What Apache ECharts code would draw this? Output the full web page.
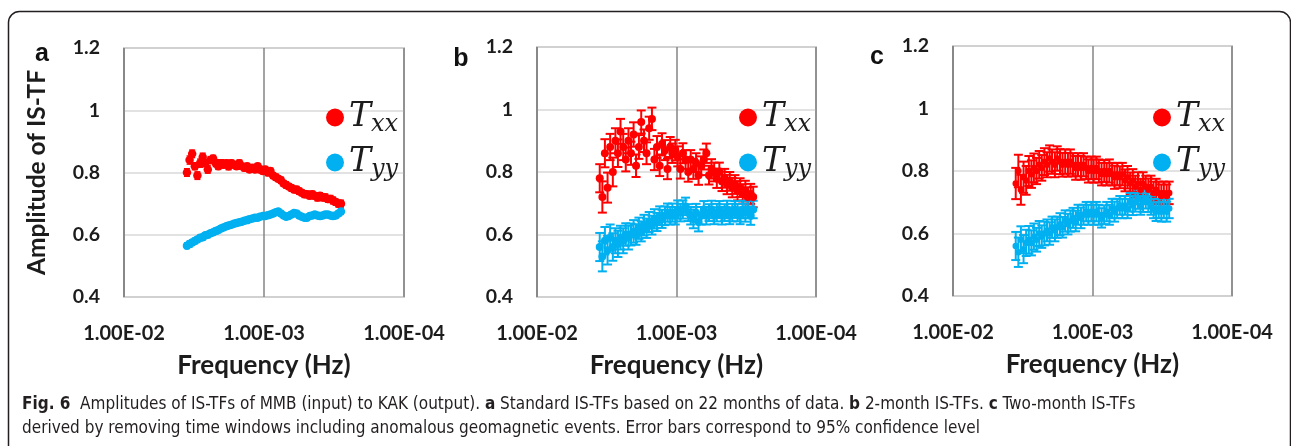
<!DOCTYPE html>
<html>
<head>
<meta charset="utf-8">
<script src="https://cdn.jsdelivr.net/npm/echarts@6/dist/echarts.min.js"></script>
<style>
html,body{margin:0;padding:0;background:#fff}
#chart{width:1291px;height:446px}
</style>
</head>
<body>
<div id="chart"></div>
<script>
// Frequencies (Hz) shared by all three panels
const freq = [3.55e-3, 3.40e-3, 3.26e-3, 3.12e-3, 2.99e-3, 2.86e-3, 2.74e-3, 2.63e-3, 2.52e-3, 2.41e-3,
  2.31e-3, 2.21e-3, 2.12e-3, 2.03e-3, 1.95e-3, 1.86e-3, 1.79e-3, 1.71e-3, 1.64e-3, 1.57e-3,
  1.50e-3, 1.44e-3, 1.38e-3, 1.32e-3, 1.27e-3, 1.21e-3, 1.16e-3, 1.11e-3, 1.07e-3, 1.02e-3,
  9.80e-4, 9.38e-4, 9.00e-4, 8.61e-4, 8.24e-4, 7.91e-4, 7.57e-4, 7.24e-4, 6.95e-4, 6.65e-4,
  6.37e-4, 6.11e-4, 5.85e-4, 5.61e-4, 5.37e-4, 5.14e-4, 4.93e-4, 4.72e-4, 4.52e-4, 4.34e-4,
  4.15e-4, 3.98e-4, 3.81e-4, 3.65e-4, 3.50e-4, 3.35e-4, 3.21e-4, 3.08e-4, 2.94e-4, 2.82e-4];

// (a) standard IS-TFs, 22 months
const aTxx = [0.80, 0.84, 0.86, 0.82, 0.79, 0.83, 0.85, 0.83, 0.81, 0.84,
  0.845, 0.83, 0.82, 0.83, 0.825, 0.83, 0.82, 0.83, 0.825, 0.82,
  0.83, 0.82, 0.815, 0.82, 0.81, 0.815, 0.81, 0.82, 0.81, 0.805,
  0.81, 0.80, 0.805, 0.79, 0.785, 0.78, 0.775, 0.765, 0.76, 0.755,
  0.75, 0.745, 0.745, 0.74, 0.735, 0.73, 0.73, 0.725, 0.73, 0.725,
  0.72, 0.725, 0.72, 0.72, 0.715, 0.715, 0.71, 0.705, 0.70, 0.70];
const aTyy = [0.565, 0.57, 0.575, 0.58, 0.585, 0.59, 0.592, 0.598, 0.60, 0.605,
  0.608, 0.612, 0.615, 0.62, 0.623, 0.627, 0.63, 0.632, 0.635, 0.638,
  0.64, 0.642, 0.645, 0.647, 0.65, 0.652, 0.655, 0.655, 0.658, 0.66,
  0.66, 0.663, 0.665, 0.668, 0.672, 0.675, 0.668, 0.662, 0.658, 0.66,
  0.665, 0.67, 0.668, 0.662, 0.658, 0.655, 0.655, 0.66, 0.662, 0.665,
  0.662, 0.66, 0.662, 0.665, 0.665, 0.662, 0.66, 0.662, 0.668, 0.675];
const aErrX = [0.012, 0.013, 0.012, 0.011, 0.012, 0.013, 0.012, 0.011, 0.012, 0.011,
  0.010, 0.011, 0.010, 0.011, 0.010, 0.010, 0.011, 0.010, 0.010, 0.009,
  0.010, 0.009, 0.010, 0.009, 0.009, 0.010, 0.009, 0.009, 0.010, 0.009,
  0.009, 0.010, 0.009, 0.009, 0.010, 0.009, 0.010, 0.009, 0.010, 0.009,
  0.010, 0.009, 0.010, 0.010, 0.009, 0.010, 0.010, 0.009, 0.010, 0.010,
  0.011, 0.010, 0.010, 0.011, 0.010, 0.011, 0.011, 0.010, 0.011, 0.011];
const aErrY = [0.009, 0.010, 0.009, 0.009, 0.008, 0.009, 0.009, 0.008, 0.009, 0.008,
  0.008, 0.009, 0.008, 0.008, 0.008, 0.007, 0.008, 0.008, 0.007, 0.008,
  0.007, 0.008, 0.007, 0.007, 0.008, 0.007, 0.007, 0.008, 0.007, 0.007,
  0.007, 0.008, 0.007, 0.007, 0.008, 0.007, 0.008, 0.007, 0.008, 0.007,
  0.008, 0.007, 0.008, 0.008, 0.007, 0.008, 0.008, 0.007, 0.008, 0.008,
  0.008, 0.009, 0.008, 0.008, 0.009, 0.008, 0.009, 0.009, 0.008, 0.009];

// (b) 2-month IS-TFs
const bTxx = [0.78, 0.72, 0.86, 0.75, 0.88, 0.80, 0.90, 0.86, 0.93, 0.88,
  0.84, 0.90, 0.86, 0.92, 0.82, 0.88, 0.96, 0.90, 0.86, 0.94,
  0.97, 0.84, 0.88, 0.82, 0.89, 0.87, 0.81, 0.88, 0.86, 0.87,
  0.85, 0.81, 0.86, 0.84, 0.80, 0.84, 0.81, 0.83, 0.79, 0.82,
  0.84, 0.86, 0.79, 0.81, 0.80, 0.78, 0.80, 0.77, 0.78, 0.76,
  0.77, 0.75, 0.76, 0.74, 0.75, 0.73, 0.74, 0.72, 0.73, 0.72];
const bTyy = [0.56, 0.53, 0.58, 0.55, 0.59, 0.56, 0.58, 0.57, 0.59, 0.58,
  0.60, 0.59, 0.60, 0.61, 0.60, 0.62, 0.61, 0.63, 0.62, 0.64,
  0.63, 0.65, 0.64, 0.66, 0.65, 0.66, 0.67, 0.66, 0.67, 0.66,
  0.68, 0.67, 0.68, 0.69, 0.67, 0.66, 0.65, 0.67, 0.64, 0.66,
  0.68, 0.66, 0.67, 0.68, 0.66, 0.67, 0.68, 0.66, 0.67, 0.68,
  0.66, 0.67, 0.68, 0.67, 0.66, 0.68, 0.67, 0.68, 0.66, 0.68];
const bErrX = [0.045, 0.050, 0.045, 0.048, 0.042, 0.046, 0.040, 0.044, 0.040, 0.042,
  0.038, 0.040, 0.037, 0.039, 0.036, 0.038, 0.037, 0.036, 0.035, 0.037,
  0.036, 0.034, 0.035, 0.033, 0.034, 0.032, 0.033, 0.032, 0.031, 0.033,
  0.032, 0.031, 0.032, 0.030, 0.031, 0.030, 0.032, 0.030, 0.031, 0.030,
  0.032, 0.031, 0.030, 0.031, 0.030, 0.031, 0.030, 0.031, 0.030, 0.031,
  0.030, 0.031, 0.030, 0.031, 0.030, 0.031, 0.032, 0.031, 0.032, 0.033];
const bErrY = [0.045, 0.048, 0.044, 0.046, 0.042, 0.044, 0.040, 0.042, 0.038, 0.040,
  0.036, 0.038, 0.035, 0.036, 0.033, 0.034, 0.032, 0.033, 0.031, 0.032,
  0.030, 0.031, 0.029, 0.030, 0.029, 0.030, 0.029, 0.028, 0.029, 0.028,
  0.029, 0.028, 0.029, 0.028, 0.027, 0.028, 0.030, 0.028, 0.030, 0.028,
  0.027, 0.028, 0.027, 0.028, 0.027, 0.028, 0.027, 0.028, 0.027, 0.028,
  0.027, 0.028, 0.027, 0.028, 0.027, 0.028, 0.029, 0.028, 0.029, 0.028];

// (c) two-month IS-TFs, anomalous windows removed
const cTxx = [0.76, 0.80, 0.74, 0.78, 0.77, 0.80, 0.79, 0.81, 0.80, 0.82,
  0.81, 0.83, 0.82, 0.84, 0.83, 0.82, 0.84, 0.83, 0.82, 0.83,
  0.82, 0.83, 0.82, 0.81, 0.82, 0.81, 0.82, 0.81, 0.80, 0.81,
  0.80, 0.81, 0.80, 0.79, 0.80, 0.79, 0.80, 0.79, 0.78, 0.79,
  0.78, 0.79, 0.77, 0.78, 0.76, 0.77, 0.75, 0.76, 0.74, 0.76,
  0.75, 0.74, 0.75, 0.73, 0.74, 0.73, 0.72, 0.73, 0.72, 0.73];
const cTyy = [0.56, 0.54, 0.58, 0.55, 0.57, 0.58, 0.57, 0.59, 0.58, 0.60,
  0.59, 0.60, 0.61, 0.60, 0.62, 0.61, 0.62, 0.63, 0.62, 0.64,
  0.63, 0.64, 0.65, 0.64, 0.66, 0.65, 0.66, 0.67, 0.66, 0.67,
  0.66, 0.67, 0.66, 0.65, 0.66, 0.67, 0.66, 0.68, 0.67, 0.68,
  0.69, 0.68, 0.69, 0.68, 0.70, 0.69, 0.70, 0.71, 0.69, 0.70,
  0.71, 0.70, 0.69, 0.68, 0.67, 0.68, 0.67, 0.68, 0.67, 0.68];
const cErrX = [0.050, 0.052, 0.048, 0.050, 0.046, 0.048, 0.044, 0.046, 0.042, 0.044,
  0.041, 0.043, 0.040, 0.042, 0.039, 0.040, 0.039, 0.040, 0.038, 0.039,
  0.038, 0.039, 0.037, 0.038, 0.037, 0.038, 0.037, 0.036, 0.037, 0.036,
  0.037, 0.036, 0.037, 0.036, 0.035, 0.036, 0.037, 0.036, 0.037, 0.036,
  0.035, 0.036, 0.035, 0.036, 0.035, 0.036, 0.035, 0.036, 0.035, 0.036,
  0.035, 0.036, 0.035, 0.036, 0.035, 0.036, 0.037, 0.036, 0.037, 0.036];
const cErrY = [0.045, 0.047, 0.043, 0.045, 0.042, 0.044, 0.040, 0.042, 0.038, 0.040,
  0.036, 0.038, 0.035, 0.036, 0.034, 0.035, 0.034, 0.035, 0.033, 0.034,
  0.033, 0.034, 0.032, 0.033, 0.032, 0.033, 0.032, 0.031, 0.032, 0.031,
  0.032, 0.031, 0.032, 0.031, 0.030, 0.031, 0.032, 0.031, 0.032, 0.031,
  0.030, 0.031, 0.030, 0.031, 0.030, 0.031, 0.030, 0.031, 0.030, 0.031,
  0.030, 0.031, 0.030, 0.031, 0.030, 0.031, 0.032, 0.031, 0.032, 0.031];

const xTickLabels = ['1.00E-02', '1.00E-03', '1.00E-04'];
const yTickLabels = ['0.4', '0.6', '0.8', '1', '1.2'];
const panelLetters = ['a', 'b', 'c'];
const seriesNames = ['Txx', 'Tyy'];
const captionLine1 = '{b|Fig. 6}  Amplitudes of IS-TFs of MMB (input) to KAK (output). {b|a} Standard IS-TFs based on 22 months of data. {b|b} 2-month IS-TFs. {b|c} Two-month IS-TFs';
const captionLine2 = 'derived by removing time windows including anomalous geomagnetic events. Error bars correspond to 95% confidence level';

const RED = '#ff0000';
const BLUE = '#00b0f0';
const TXT = '#1c1c1c';
const AXIS_FONT = 'Lato, "Open Sans", sans-serif';
const CAP_FONT = '"Liberation Sans Narrow", "DejaVu Sans Condensed", Roboto, sans-serif';

// panel layout (pixels)
const layout = [
  {left: 124, top: 48, width: 280, height: 249, legendLeft: 326, letterX: 42, letterY: 42, markSize: 8.5, cap: 3, barWidth: 1.5},
  {left: 537, top: 47, width: 279, height: 250, legendLeft: 739, letterX: 461, letterY: 47, markSize: 8, cap: 4.5, barWidth: 2},
  {left: 953, top: 46, width: 279, height: 250, legendLeft: 1153, letterX: 877, letterY: 45, markSize: 6.5, cap: 4.5, barWidth: 2}
];
const panelData = [
  {tx: aTxx, ty: aTyy, ex: aErrX, ey: aErrY},
  {tx: bTxx, ty: bTyy, ex: bErrX, ey: bErrY},
  {tx: cTxx, ty: cTyy, ex: cErrX, ey: cErrY}
];

function errorBars(idx, vals, errs, color, cap, lw) {
  return {
    type: 'custom',
    xAxisIndex: idx, yAxisIndex: idx,
    silent: true,
    data: freq.map((f, i) => [f, vals[i] - errs[i], vals[i] + errs[i]]),
    encode: {x: 0, y: [1, 2]},
    renderItem: function (params, api) {
      const lo = api.coord([api.value(0), api.value(1)]);
      const hi = api.coord([api.value(0), api.value(2)]);
      const style = {stroke: color, lineWidth: lw};
      return {
        type: 'group',
        children: [
          {type: 'line', shape: {x1: lo[0], y1: lo[1], x2: hi[0], y2: hi[1]}, style: style},
          {type: 'line', shape: {x1: lo[0] - cap, y1: lo[1], x2: lo[0] + cap, y2: lo[1]}, style: style},
          {type: 'line', shape: {x1: hi[0] - cap, y1: hi[1], x2: hi[0] + cap, y2: hi[1]}, style: style}
        ]
      };
    }
  };
}

function points(idx, name, vals, color, size) {
  return {
    type: 'scatter', name: name,
    xAxisIndex: idx, yAxisIndex: idx,
    symbol: 'circle', symbolSize: size,
    itemStyle: {color: color, opacity: 1},
    data: freq.map((f, i) => [f, vals[i]])
  };
}

const grids = layout.map(l => ({
  left: l.left, top: l.top, width: l.width, height: l.height,
  show: true, borderColor: '#a6a6a6', borderWidth: 1.5, backgroundColor: 'transparent'
}));

const xAxes = layout.map((l, i) => ({
  type: 'log', logBase: 10, gridIndex: i,
  min: 1e-4, max: 1e-2, inverse: true,
  name: 'Frequency (Hz)', nameLocation: 'middle', nameGap: 56,
  nameTextStyle: {fontFamily: AXIS_FONT, fontWeight: 'bold', fontSize: 26, color: TXT},
  axisLine: {show: false}, axisTick: {show: false},
  axisLabel: {
    margin: 27, fontFamily: AXIS_FONT, fontWeight: 'bold', fontSize: 20, color: TXT,
    formatter: v => xTickLabels[Math.round(-Math.log10(v)) - 2]
  },
  splitLine: {show: true, lineStyle: {color: '#858585', width: 1.5}}
}));

const yAxes = layout.map((l, i) => ({
  type: 'value', gridIndex: i,
  min: 0.4, max: 1.2, interval: 0.2,
  name: i === 0 ? 'Amplitude of IS-TF' : '',
  nameLocation: 'middle', nameGap: 74,
  nameTextStyle: {fontFamily: AXIS_FONT, fontWeight: 'bold', fontSize: 24.5, color: TXT},
  axisLine: {show: false}, axisTick: {show: false},
  axisLabel: {
    margin: 24, fontFamily: AXIS_FONT, fontWeight: 'bold', fontSize: 19.5, color: TXT,
    formatter: v => yTickLabels[Math.round((v - 0.4) / 0.2)]
  },
  splitLine: {show: true, lineStyle: {color: '#d9d9d9', width: 1.5}}
}));

const legends = layout.map(l => ({
  data: seriesNames.map(n => ({name: n, icon: 'circle'})),
  orient: 'vertical', left: l.legendLeft, top: 98, padding: 0,
  itemWidth: 18, itemHeight: 18, itemGap: 6, selectedMode: false,
  formatter: name => '{t|T}{s|' + name.slice(1) + '}',
  textStyle: {
    rich: {
      t: {fontFamily: '"DejaVu Serif", serif', fontStyle: 'italic', fontSize: 33, lineHeight: 30, color: TXT},
      s: {fontFamily: '"DejaVu Serif", serif', fontStyle: 'italic', fontSize: 24, lineHeight: 15, padding: [15, 0, 0, 0], color: TXT}
    }
  }
}));

const series = [];
panelData.forEach((p, i) => {
  const l = layout[i];
  series.push(errorBars(i, p.tx, p.ex, RED, l.cap, l.barWidth));
  series.push(points(i, seriesNames[0], p.tx, RED, l.markSize));
  series.push(errorBars(i, p.ty, p.ey, BLUE, l.cap, l.barWidth));
  series.push(points(i, seriesNames[1], p.ty, BLUE, l.markSize));
});

const graphics = [
  {type: 'rect', z: -10, shape: {x: 8.5, y: 11.5, width: 1282, height: 470, r: 11},
   style: {fill: 'none', stroke: '#231f20', lineWidth: 1.5}},
  {type: 'text', x: 22, y: 405, style: {
    text: captionLine1, fill: '#231f20', fontSize: 17, fontFamily: CAP_FONT,
    align: 'left', verticalAlign: 'middle',
    rich: {b: {fontWeight: 'bold', fontSize: 17, fontFamily: CAP_FONT, fill: '#231f20'}}
  }},
  {type: 'text', x: 22, y: 429, style: {
    text: captionLine2, fill: '#231f20', fontSize: 17, fontFamily: CAP_FONT,
    align: 'left', verticalAlign: 'middle'
  }}
].concat(layout.map((l, i) => ({
  type: 'text', x: l.letterX, y: l.letterY, style: {
    text: panelLetters[i], fill: '#111', fontSize: 25, fontWeight: 'bold',
    fontFamily: '"Liberation Sans", Arial, sans-serif', align: 'center', verticalAlign: 'alphabetic'
  }
})));

const chart = echarts.init(document.getElementById('chart'), null, {renderer: 'canvas'});
chart.setOption({
  animation: false,
  backgroundColor: '#ffffff',
  grid: grids,
  xAxis: xAxes,
  yAxis: yAxes,
  legend: legends,
  series: series,
  graphic: graphics
});
</script>
</body>
</html>
